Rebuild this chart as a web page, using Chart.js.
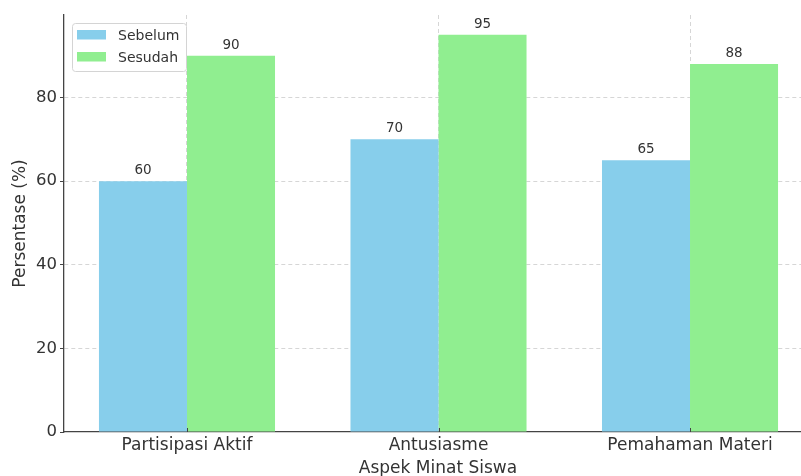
<!DOCTYPE html>
<html>
<head>
<meta charset="utf-8">
<script src="https://cdn.jsdelivr.net/npm/chart.js@4/dist/chart.umd.min.js"></script>
<style>
  html, body { margin: 0; padding: 0; overflow: hidden; background: #fff; width: 801px; height: 476px; }
  #wrap { width: 801px; height: 476px; overflow: hidden; }
  canvas { display: block; }
</style>
</head>
<body>
<div id="wrap"><canvas id="chart" width="812" height="476"></canvas></div>
<script>
// Data
const categories = ['Partisipasi Aktif', 'Antusiasme', 'Pemahaman Materi'];
const sebelum = [60, 70, 65];
const sesudah = [90, 95, 88];
const seriesNames = ['Sebelum', 'Sesudah'];
const yTicks = [0, 20, 40, 60, 80];
const xAxisTitle = 'Aspek Minat Siswa';
const yAxisTitle = 'Persentase (%)';

const FONT = 'DejaVu Sans';
const TEXT = '#333';
const AXIS = '#444';
const GRID = '#d6d6d6';

const toPoints = vals => vals.map((v, i) => ({ x: i, y: v }));

// Value labels above each bar, plus short inward ticks on the category axis
const valueLabels = {
  id: 'valueLabels',
  afterDatasetsDraw(chart) {
    const { ctx } = chart;
    ctx.save();
    ctx.font = `13.5px "${FONT}"`;
    ctx.fillStyle = TEXT;
    ctx.textAlign = 'center';
    ctx.textBaseline = 'alphabetic';
    chart.data.datasets.forEach((ds, di) => {
      chart.getDatasetMeta(di).data.forEach((bar, i) => {
        ctx.fillText(String(ds.data[i].y), bar.x, bar.y - 7);
      });
    });
    const xs = chart.scales.x;
    const bottom = chart.chartArea.bottom;
    ctx.strokeStyle = AXIS;
    ctx.lineWidth = 1;
    xs.ticks.forEach(t => {
      const px = Math.round(xs.getPixelForValue(t.value)) + 0.5;
      ctx.beginPath();
      ctx.moveTo(px, bottom);
      ctx.lineTo(px, bottom - 4);
      ctx.stroke();
    });
    ctx.restore();
  }
};

// Legend box in the upper-left corner of the plot
const innerLegend = {
  id: 'innerLegend',
  afterDraw(chart) {
    const { ctx } = chart;
    const x0 = 72.5, y0 = 23.5, w = 114, h = 48, r = 3;
    ctx.save();
    ctx.beginPath();
    ctx.moveTo(x0 + r, y0);
    ctx.lineTo(x0 + w - r, y0);
    ctx.arcTo(x0 + w, y0, x0 + w, y0 + r, r);
    ctx.lineTo(x0 + w, y0 + h - r);
    ctx.arcTo(x0 + w, y0 + h, x0 + w - r, y0 + h, r);
    ctx.lineTo(x0 + r, y0 + h);
    ctx.arcTo(x0, y0 + h, x0, y0 + h - r, r);
    ctx.lineTo(x0, y0 + r);
    ctx.arcTo(x0, y0, x0 + r, y0, r);
    ctx.closePath();
    ctx.fillStyle = 'rgba(255,255,255,0.8)';
    ctx.fill();
    ctx.strokeStyle = '#d4d4d4';
    ctx.lineWidth = 1;
    ctx.stroke();
    ctx.font = `14px "${FONT}"`;
    ctx.textAlign = 'left';
    ctx.textBaseline = 'alphabetic';
    chart.data.datasets.forEach((ds, i) => {
      const rowY = 30 + i * 22;
      ctx.fillStyle = ds.backgroundColor;
      ctx.fillRect(77, rowY, 29, 9.5);
      ctx.fillStyle = TEXT;
      ctx.fillText(ds.label, 118, rowY + 10);
    });
    ctx.restore();
  }
};

new Chart(document.getElementById('chart'), {
  type: 'bar',
  data: {
    datasets: [
      { label: seriesNames[0], data: toPoints(sebelum), backgroundColor: '#87CEEB', borderWidth: 0 },
      { label: seriesNames[1], data: toPoints(sesudah), backgroundColor: '#90EE90', borderWidth: 0 }
    ]
  },
  options: {
    responsive: false,
    animation: false,
    events: [],
    layout: { padding: { top: 15, left: 0, right: 0, bottom: 0 } },
    datasets: { bar: { categoryPercentage: 0.7, barPercentage: 1.0 } },
    plugins: { legend: { display: false }, tooltip: { enabled: false } },
    scales: {
      x: {
        type: 'linear',
        offset: false,
        min: -0.489,
        max: 2.485,
        afterBuildTicks: s => { s.ticks = categories.map((_, i) => ({ value: i })); },
        afterFit: s => { s.height = 44; },
        ticks: {
          callback: v => categories[v],
          color: TEXT,
          font: { family: FONT, size: 17 },
          padding: 3,
          maxRotation: 0,
          autoSkip: false
        },
        grid: { offset: false, color: GRID, lineWidth: 1, drawTicks: false },
        border: { display: true, color: AXIS, width: 1.3, dash: [4, 3] },
        title: {
          display: true,
          text: xAxisTitle,
          color: TEXT,
          font: { family: FONT, size: 17 },
          padding: { top: 0, bottom: -3 }
        }
      },
      y: {
        type: 'linear',
        min: 0,
        max: 99.75,
        afterBuildTicks: s => { s.ticks = yTicks.map(v => ({ value: v })); },
        afterFit: s => { s.width = 64; },
        ticks: {
          color: TEXT,
          font: { family: FONT, size: 16.5 },
          padding: 3
        },
        grid: {
          color: c => (c.tick && c.tick.value === 0 ? 'rgba(0,0,0,0)' : GRID),
          lineWidth: 1,
          drawTicks: true,
          tickLength: 4,
          tickColor: AXIS,
          tickWidth: 1,
          tickBorderDash: []
        },
        border: { display: true, color: AXIS, width: 1.3, dash: [4, 3] },
        title: {
          display: true,
          text: yAxisTitle,
          color: TEXT,
          font: { family: FONT, size: 17 },
          padding: { top: 10, bottom: 0 }
        }
      }
    }
  },
  plugins: [valueLabels, innerLegend]
});
</script>
</body>
</html>
